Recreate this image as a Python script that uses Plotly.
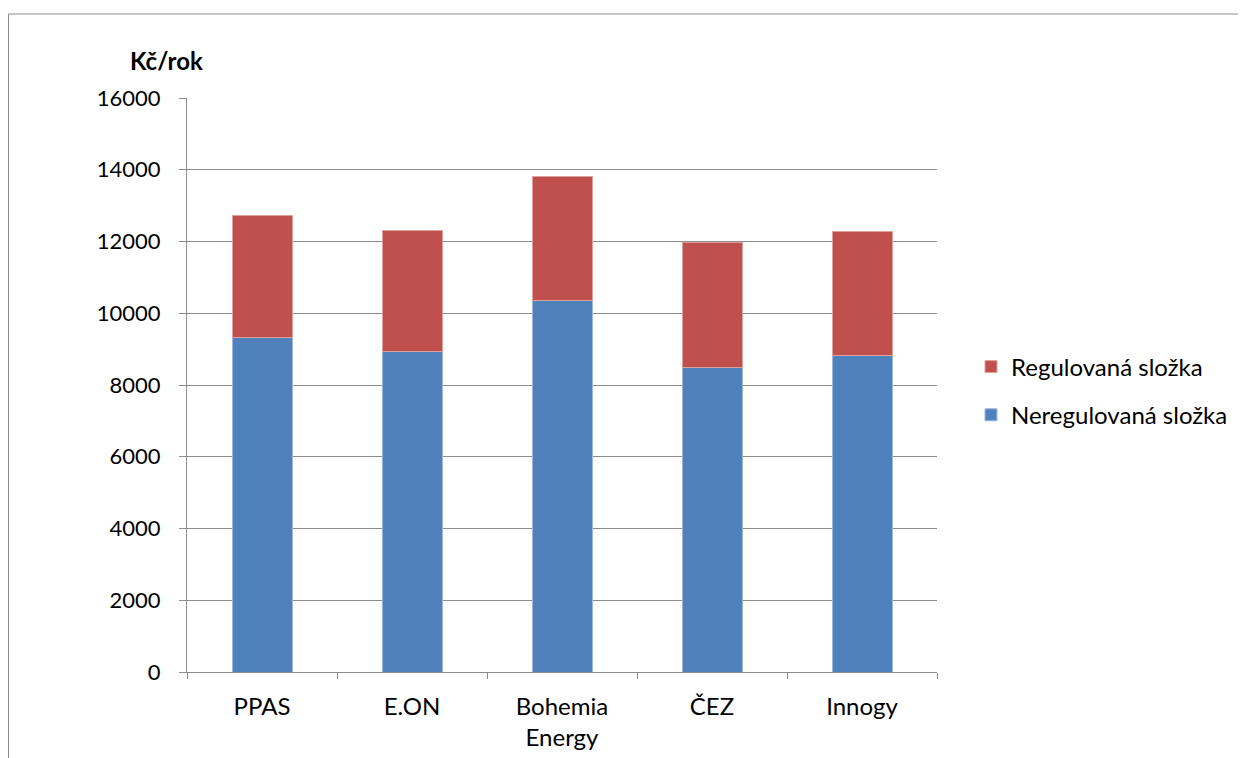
import plotly.graph_objects as go

categories = ["PPAS", "E.ON", "Bohemia<br>Energy", "ČEZ", "Innogy"]
neregulovana = [9330, 8940, 10360, 8490, 8830]
regulovana = [3395, 3375, 3450, 3470, 3450]
y_ticks = [0, 2000, 4000, 6000, 8000, 10000, 12000, 14000, 16000]

BLUE = "#4F81BD"
RED = "#C0504D"
GRID = "#8C8C8C"
FONT = "Lato"

fig = go.Figure()
fig.add_trace(go.Bar(
    x=categories, y=neregulovana, name="Neregulovaná složka",
    marker=dict(color=BLUE, line=dict(color="#9DB8DC", width=1)),
    width=0.4, legendgroup="b", legendrank=2,
))
fig.add_trace(go.Bar(
    x=categories, y=regulovana, name="Regulovaná složka",
    marker=dict(color=RED, line=dict(color="#E0A09E", width=1)),
    width=0.4, legendgroup="a", legendrank=1,
))

# page has an 8px body margin; coordinates below are figure pixels
W, H = 1246, 758
L, T = 179, 90
pw, ph = 750, 574
R = W - L - pw
B = H - T - ph

def px_x(x):
    return (x - L) / pw

def px_y(y):
    return (T + ph - y) / ph

fig.update_layout(
    width=W, height=H,
    margin=dict(l=L, r=R, t=T, b=B, autoexpand=False),
    barmode="stack",
    plot_bgcolor="white", paper_bgcolor="white",
    font=dict(family=FONT, size=22, color="#000000"),
    legend=dict(
        traceorder="grouped", tracegroupgap=14,
        x=px_x(963), xanchor="left", y=px_y(383), yanchor="middle",
        font=dict(size=24), itemwidth=30,
        bgcolor="rgba(0,0,0,0)",
    ),
    xaxis=dict(
        showline=True, linecolor=GRID, linewidth=1,
        ticks="outside", ticklen=6, tickcolor=GRID, tickson="boundaries",
        showgrid=False, ticklabelstandoff=13, tickfont=dict(size=24),
    ),
    yaxis=dict(
        range=[0, 16000], tickvals=y_ticks, ticktext=[str(v) for v in y_ticks],
        showline=True, linecolor=GRID, linewidth=1,
        ticks="outside", ticklen=7, tickcolor=GRID,
        showgrid=True, gridcolor=GRID, gridwidth=1,
        zeroline=False, ticklabelstandoff=14, tickfont=dict(size=22),
    ),
    annotations=[dict(
        text="<b>Kč/rok</b>", xref="paper", yref="paper",
        x=px_x(158), y=px_y(52), xanchor="center", yanchor="middle",
        showarrow=False, font=dict(size=24, family=FONT),
    )],
    shapes=[dict(
        type="rect", xref="paper", yref="paper",
        x0=px_x(0.5), x1=px_x(1300), y0=px_y(800), y1=px_y(6),
        line=dict(color=GRID, width=1), fillcolor="rgba(0,0,0,0)", layer="below",
    )],
)

fig.write_html("out.html")
